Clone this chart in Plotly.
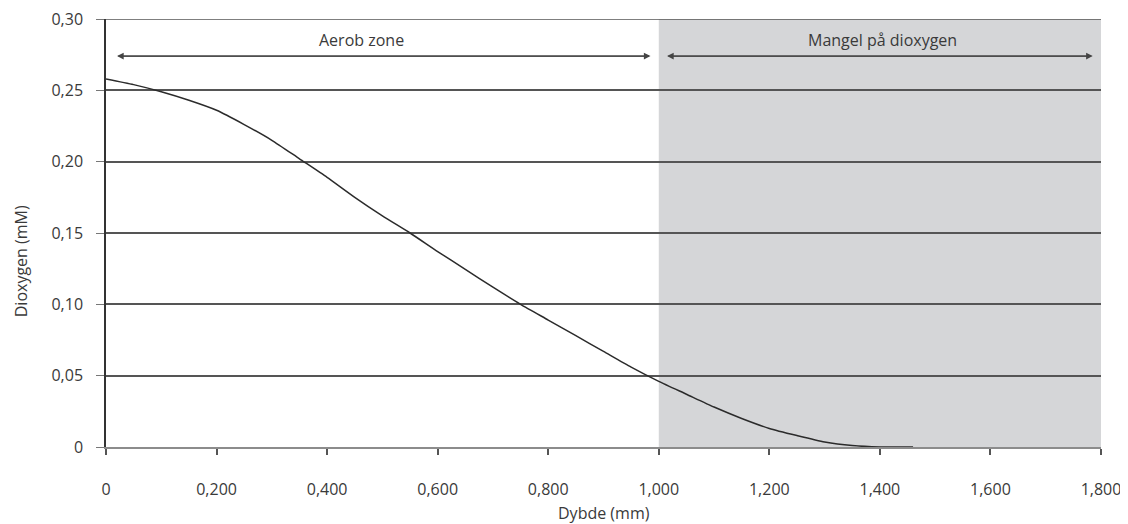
import plotly.graph_objects as go

# Data
depth_mm = [0, 0.05, 0.1, 0.15, 0.2, 0.25, 0.3, 0.35, 0.4, 0.45, 0.5, 0.55, 0.6, 0.65, 0.7,
            0.75, 0.8, 0.85, 0.9, 0.95, 1.0, 1.05, 1.1, 1.15, 1.2, 1.25, 1.3, 1.35, 1.4, 1.46]
oxygen_mM = [0.258, 0.254, 0.249, 0.243, 0.236, 0.226, 0.215, 0.202, 0.189, 0.175, 0.162,
             0.150, 0.137, 0.1245, 0.112, 0.100, 0.089, 0.078, 0.067, 0.056, 0.046, 0.037,
             0.028, 0.020, 0.013, 0.008, 0.0035, 0.001, 0.0, 0.0]

x_tickvals = [0, 0.2, 0.4, 0.6, 0.8, 1.0, 1.2, 1.4, 1.6, 1.8]
x_ticktext = ["0", "0,200", "0,400", "0,600", "0,800", "1,000", "1,200", "1,400", "1,600", "1,800"]
y_tickvals = [0, 0.05, 0.10, 0.15, 0.20, 0.25, 0.30]
y_ticktext = ["0", "0,05", "0,10", "0,15", "0,20", "0,25", "0,30"]

zone_labels = ["Aerob zone", "Mangel på dioxygen"]
zone_starts = [0.02, 1.015]
zone_ends = [0.985, 1.785]
zone_label_x = [0.462, 1.405]
shade_range = [1.0, 1.8]

FONT = "Open Sans"
TXT = "#3a3a3a"
FS = 16

fig = go.Figure()
fig.add_trace(go.Scatter(x=depth_mm, y=oxygen_mM, mode="lines",
                         line=dict(color="#2b2b2b", width=1.5, shape="spline", smoothing=0.6),
                         showlegend=False, hoverinfo="skip"))

# shaded zone
fig.add_shape(type="rect", xref="x", yref="y", x0=shade_range[0], x1=shade_range[1],
              y0=0, y1=0.30, fillcolor="#d5d6d8", line=dict(width=0), layer="below")
# top line
fig.add_shape(type="line", xref="x", yref="y", x0=0, x1=1.8, y0=0.30, y1=0.30,
              line=dict(color="#555555", width=1.5), layer="between")

arrow_y = 0.274
for lab, s, e, lx in zip(zone_labels, zone_starts, zone_ends, zone_label_x):
    fig.add_annotation(x=e, y=arrow_y, ax=s, ay=arrow_y, xref="x", yref="y", axref="x", ayref="y",
                       text="", showarrow=True, arrowhead=2, arrowsize=1.1, arrowwidth=1.2,
                       arrowcolor="#444444")
    fig.add_annotation(x=s, y=arrow_y, ax=e, ay=arrow_y, xref="x", yref="y", axref="x", ayref="y",
                       text="", showarrow=True, arrowhead=2, arrowsize=1.1, arrowwidth=1.2,
                       arrowcolor="#444444")
    fig.add_annotation(x=lx, y=0.2853, xref="x", yref="y", text=lab, showarrow=False,
                       font=dict(family=FONT, size=FS, color=TXT))

# axis titles
fig.add_annotation(x=0.5, y=-0.155, xref="paper", yref="paper", text="Dybde (mm)",
                   showarrow=False, yanchor="middle", font=dict(family=FONT, size=FS, color=TXT))
fig.add_annotation(x=-0.086, y=0.435, xref="paper", yref="paper", text="Dioxygen (mM)",
                   textangle=-90, showarrow=False, xanchor="center", yanchor="middle",
                   font=dict(family=FONT, size=FS, color=TXT))

# page body has 8px margin: compensate so plot area lands at x 106..1101, y 19..447
fig.update_layout(
    width=1120, height=516,
    margin=dict(l=98, r=27, t=11, b=77, autoexpand=False),
    paper_bgcolor="white", plot_bgcolor="white",
    font=dict(family=FONT, size=FS, color=TXT),
    showlegend=False,
)
fig.update_xaxes(
    range=[0, 1.8], tickvals=x_tickvals, ticktext=x_ticktext,
    showgrid=False, zeroline=False, automargin=False,
    showline=True, linecolor="#8c8c8c", linewidth=2,
    ticks="outside", ticklen=6, tickwidth=1.5, tickcolor="#555555",
    ticklabelstandoff=21, ticklabeloverflow="allow",
)
fig.update_yaxes(
    range=[0, 0.30], tickvals=y_tickvals, ticktext=y_ticktext,
    showgrid=True, gridcolor="#555555", gridwidth=1.5,
    zeroline=False, automargin=False,
    showline=True, linecolor="#333333", linewidth=1.5,
    ticks="outside", ticklen=8, tickwidth=1.2, tickcolor="#777777",
    ticklabelstandoff=10, ticklabeloverflow="allow",
)

fig.write_html("out.html")
